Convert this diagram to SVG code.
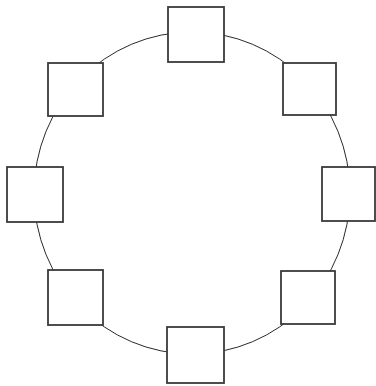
<svg xmlns="http://www.w3.org/2000/svg" width="376" height="386" viewBox="0 0 376 386">
<style>
.n{fill:#ffffff;stroke:#3a3a3a;stroke-width:1.8}
.c{fill:none;stroke:#2a2a2a;stroke-width:1}
</style>
<rect width="376" height="386" fill="#ffffff"/>
<g id="connectors">
<ellipse class="c" cx="192" cy="193" rx="158" ry="161"/>
</g>
<g id="node-top"><rect class="n" x="168" y="7" width="56" height="55"/></g>
<g id="node-top-right"><rect class="n" x="283" y="63" width="53" height="52"/></g>
<g id="node-right"><rect class="n" x="322" y="167" width="53" height="54"/></g>
<g id="node-bottom-right"><rect class="n" x="281" y="271" width="54" height="53"/></g>
<g id="node-bottom"><rect class="n" x="167" y="327" width="57" height="56"/></g>
<g id="node-bottom-left"><rect class="n" x="48" y="270" width="55" height="55"/></g>
<g id="node-left"><rect class="n" x="7" y="167" width="56" height="55"/></g>
<g id="node-top-left"><rect class="n" x="48" y="63" width="55" height="53"/></g>
</svg>
